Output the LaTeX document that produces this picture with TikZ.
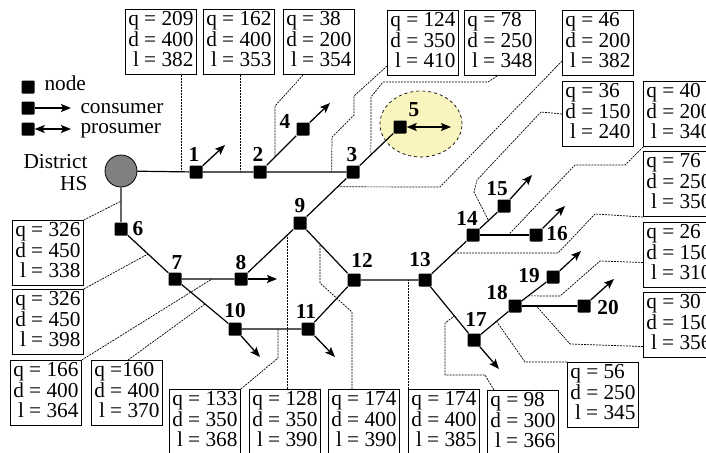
\documentclass[tikz,border=0pt]{standalone}
\usepackage{fontspec}
\setmainfont{Liberation Serif}
\usetikzlibrary{arrows.meta,calc,shapes.geometric}
\definecolor{zoneyellow}{RGB}{250,245,190}
\newcommand{\bigf}{\fontsize{21.3}{19.5}\selectfont}
\newcommand{\qdl}[3]{\begin{tabular}{@{}r@{ }l@{}}q & = #1\\ d & = #2\\ l & = #3\end{tabular}}
\tikzset{
  junc/.style={fill=black, minimum size=13pt, inner sep=0pt, rounded corners=1pt},
  pipe/.style={line width=1.2pt},
  cons/.style={line width=1.3pt, -{Stealth[length=10pt,width=8pt,inset=2pt]}},
  pros/.style={line width=1.3pt, {Stealth[length=10pt,width=8pt,inset=2pt]}-{Stealth[length=10pt,width=8pt,inset=2pt]}},
  lbl/.style={font=\bigf\bfseries, inner sep=0pt},
  qbox/.style={draw, line width=0.8pt, anchor=north west, minimum width=71pt, minimum height=63pt, inner xsep=2.5pt, inner ysep=2pt},
  leader/.style={line width=0.7pt, dash pattern=on 2pt off 1pt}
}
\begin{document}
\begin{tikzpicture}[x=1pt,y=-1pt,font=\bigf]
\useasboundingbox (0,0) rectangle (706,452);
% legend
\node[junc] (k1) at (28,87) {};
\node[anchor=base west] (k1t) at (41,90) {node};
\node[junc] (k2) at (28,108) {};
\coordinate (k2e) at (71,108);
\draw[cons] (k2) -- (k2e);
\node[anchor=base west] (k2t) at (77,113) {consumer};
\node[junc] (k3) at (28,129) {};
\coordinate (k3e) at (71,129);
\draw[pros] (k3) -- (k3e);
\node[anchor=base west] (k3t) at (77,133) {prosumer};
% district heating station
\node[anchor=base east] (hst1) at (91,168) {District};
\node[anchor=base east] (hst2) at (91,190) {HS};
\node[circle, draw, line width=0.8pt, fill=black!50, minimum size=32pt, inner sep=0pt] (hs) at (121,171) {};
% prosumer zone
\node[ellipse, draw, dashed, line width=0.7pt, fill=zoneyellow, minimum width=82pt, minimum height=66pt] (zone5) at (421,124) {};
% network nodes
\node[junc] (n1) at (196,172) {};
\node[junc] (n2) at (260,172) {};
\node[junc] (n3) at (353,172) {};
\node[junc] (n4) at (303,129) {};
\node[junc] (n5) at (400,127) {};
\node[junc] (n6) at (121,229) {};
\node[junc] (n7) at (175,279) {};
\node[junc] (n8) at (241,279) {};
\node[junc] (n9) at (300,223) {};
\node[junc] (n10) at (235,329) {};
\node[junc] (n11) at (308,329) {};
\node[junc] (n12) at (354,280) {};
\node[junc] (n13) at (425,280) {};
\node[junc] (n14) at (473,235) {};
\node[junc] (n15) at (504,206) {};
\node[junc] (n16) at (536,235) {};
\node[junc] (n17) at (474,340) {};
\node[junc] (n18) at (515,306) {};
\node[junc] (n19) at (553,277) {};
\node[junc] (n20) at (584,306) {};
% node numbers
\node[lbl] (l1) at (194,154) {1};
\node[lbl] (l2) at (258,154) {2};
\node[lbl] (l3) at (352,155) {3};
\node[lbl] (l4) at (285,121) {4};
\node[lbl] (l5) at (414,110) {5};
\node[lbl] (l6) at (138,229) {6};
\node[lbl] (l7) at (177,263) {7};
\node[lbl] (l8) at (241,263) {8};
\node[lbl] (l9) at (300,206) {9};
\node[lbl] (l10) at (235,311) {10};
\node[lbl] (l11) at (306,311) {11};
\node[lbl] (l12) at (362,260) {12};
\node[lbl] (l13) at (420,260) {13};
\node[lbl] (l14) at (467,218) {14};
\node[lbl] (l15) at (497,189) {15};
\node[lbl] (l16) at (557,234) {16};
\node[lbl] (l17) at (476,319) {17};
\node[lbl] (l18) at (497,293) {18};
\node[lbl] (l19) at (529,276) {19};
\node[lbl] (l20) at (608,308) {20};
% pipes
\draw[pipe] (hs) -- (n1) -- (n2) -- (n3);
\draw[pipe, black!60] (hs) -- (n6);
\draw[pipe] (n2) -- (n4);
\draw[pipe] (n3) -- (n5);
\draw[pipe] (n3) -- (n9);
\draw[pipe] (n6) -- (n7) -- (n8) -- (n9) -- (n12);
\draw[pipe] (n7) -- (n10) -- (n11) -- (n12) -- (n13);
\draw[pipe] (n13) -- (n14) -- (n15);
\draw[pipe] (n14) -- (n16);
\draw[pipe] (n13) -- (n17) -- (n18) -- (n19);
\draw[pipe] (n18) -- (n20);
% consumers and prosumer
\coordinate (a1) at (225,145);
\coordinate (a4) at (330,103);
\coordinate (a5) at (451,127);
\coordinate (a8) at (277,279);
\coordinate (a10) at (260,357);
\coordinate (a11) at (335,357);
\coordinate (a15) at (532,175);
\coordinate (a16) at (565,206);
\coordinate (a17) at (499,369);
\coordinate (a19) at (581,251);
\coordinate (a20) at (614,279);
\draw[cons] (n1) -- (a1);
\draw[cons] (n4) -- (a4);
\draw[pros] (n5) -- (a5);
\draw[cons] (n8) -- (a8);
\draw[cons] (n10) -- (a10);
\draw[cons] (n11) -- (a11);
\draw[cons] (n15) -- (a15);
\draw[cons] (n16) -- (a16);
\draw[cons] (n17) -- (a17);
\draw[cons] (n19) -- (a19);
\draw[cons] (n20) -- (a20);
% pipe data
\node[qbox] (b209) at (125,9) {\qdl{209}{400}{382}};
\node[qbox] (b162) at (203,9) {\qdl{162}{400}{353}};
\node[qbox] (b38) at (283,9) {\qdl{38}{200}{354}};
\node[qbox] (b124) at (387,10) {\qdl{124}{350}{410}};
\node[qbox] (b78) at (464,10) {\qdl{78}{250}{348}};
\node[qbox] (b46) at (562,10) {\qdl{46}{200}{382}};
\node[qbox] (b36) at (562,81) {\qdl{36}{150}{240}};
\node[qbox] (b40) at (643,81) {\qdl{40}{200}{340}};
\node[qbox] (b76) at (643,151) {\qdl{76}{250}{350}};
\node[qbox] (b26) at (643,222) {\qdl{26}{150}{310}};
\node[qbox] (b30) at (643,292) {\qdl{30}{150}{356}};
\node[qbox] (b56) at (567,362) {\qdl{56}{250}{345}};
\node[qbox] (b98) at (487,390) {\qdl{98}{300}{366}};
\node[qbox] (b174b) at (408,389) {\qdl{174}{400}{385}};
\node[qbox] (b174a) at (328,389) {\qdl{174}{400}{390}};
\node[qbox] (b128) at (249,389) {\qdl{128}{350}{390}};
\node[qbox] (b133) at (169,389) {\qdl{133}{350}{368}};
\node[qbox] (b160) at (91,360) {\begin{tabular}{@{}r@{ }l@{}}q & =160\\ d & = 400\\ l & = 370\end{tabular}};
\node[qbox] (b166) at (10,360) {\qdl{166}{400}{364}};
\node[qbox] (b326b) at (12,289) {\qdl{326}{450}{398}};
\node[qbox] (b326a) at (12,220) {\qdl{326}{450}{338}};
% points on the pipes
\coordinate (p1) at ($(hs)!.8!(n1)$);
\coordinate (p2) at ($(n1)!.7!(n2)$);
\coordinate (p3) at ($(n2)!.35!(n4)$);
\coordinate (p4) at ($(n2)!.77!(n3)$);
\coordinate (p5) at ($(n3)!.38!(n5)$);
\coordinate (p6) at ($(n3)!.29!(n9)$);
\coordinate (p7) at ($(n14)!.5!(n15)$);
\coordinate (p8) at ($(n14)!.56!(n16)$);
\coordinate (p9) at ($(n13)!.6!(n14)$);
\coordinate (p10) at ($(n18)!.35!(n19)$);
\coordinate (p11) at ($(n18)!.31!(n20)$);
\coordinate (p12) at ($(n17)!.55!(n18)$);
\coordinate (p13) at ($(n13)!.6!(n17)$);
\coordinate (p14) at ($(n12)!.76!(n13)$);
\coordinate (p15) at ($(n9)!.37!(n12)$);
\coordinate (p16) at ($(n8)!.78!(n9)$);
\coordinate (p17) at ($(n10)!.59!(n11)$);
\coordinate (p18) at ($(n7)!.5!(n10)$);
\coordinate (p19) at ($(n7)!.56!(n8)$);
\coordinate (p20) at ($(n6)!.5!(n7)$);
\coordinate (p21) at ($(hs)!.52!(n6)$);
% leaders
\draw[leader] (p1 |- b209.south) -- (p1);
\draw[leader] (p2 |- b162.south) -- (p2);
\draw[leader] (303,0 |- b38.south) -- (275,106) -- (p3);
\draw[leader] ([yshift=10pt]b124.south west) -- (354,96) -- (354,115) -- (332,137) -- (p4);
\draw[leader] (497,0 |- b78.south) -- (488,82) -- (383,82) -- (371,97) -- (p5);
\draw[leader] ([yshift=15pt]b46.south west) -- (440,187) -- (p6);
\draw[leader] (b36.west) -- (541,112) -- (477,180) -- (474,192) -- (p7);
\draw[leader] (b40.south west) -- (625,165) -- (575,165) -- (p8);
\draw[leader] (b76.south west) -- (595,214) -- (558,253) -- (p9);
\draw[leader] ([yshift=-7.5pt]b26.west) -- (600,261) -- (560,296) -- (p10);
\draw[leader] ([yshift=-21.5pt]b30.west) -- (570,344) -- (p11);
\draw[leader] (b56.north west) -- (525,362) -- (p12);
\draw[leader] ([xshift=7pt]b98.north west) -- (485,375) -- (445,375) -- (445,323) -- (p13);
\draw[leader] (p14 |- b174b.north) -- (p14);
\draw[leader] ([xshift=24pt]b174a.north west) -- (352,312) -- (320,283) -- (p15);
\draw[leader] (p16 |- b128.north) -- (p16);
\draw[leader] (b133.north east) -- (278,358) -- (p17);
\draw[leader] ([xshift=37pt]b160.north west) -- (p18);
\draw[leader] (b166.north east) -- (p19);
\draw[leader] (b326b.north east) -- (p20);
\draw[leader] (b326a.north east) -- (p21);
\end{tikzpicture}
\end{document}
